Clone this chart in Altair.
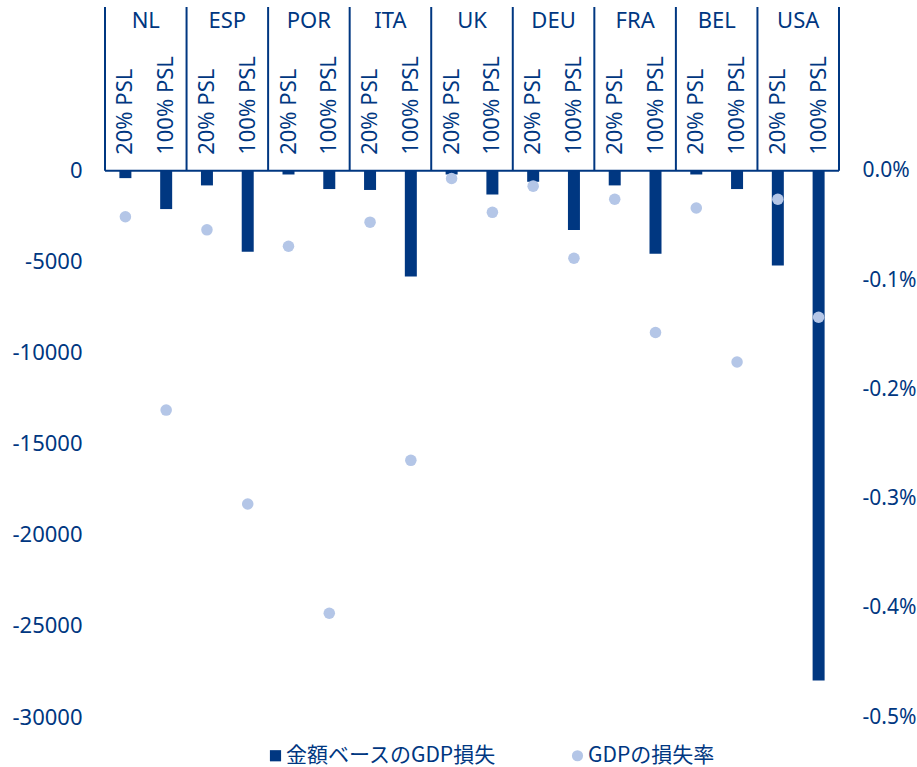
import altair as alt
import pandas as pd

# Countries and the two private-sector-loss scenarios
countries = ["NL", "ESP", "POR", "ITA", "UK", "DEU", "FRA", "BEL", "USA"]
scenarios = ["20% PSL", "100% PSL"]

# GDP loss in money terms (left axis)
loss_20 = [-400, -800, -200, -1050, -200, -600, -800, -200, -5200]
loss_100 = [-2100, -4450, -1000, -5800, -1300, -3250, -4550, -1000, -28000]

# GDP loss rate in percent (right axis)
rate_20 = [-0.042, -0.054, -0.069, -0.047, -0.007, -0.014, -0.026, -0.034, -0.026]
rate_100 = [-0.219, -0.305, -0.405, -0.265, -0.038, -0.080, -0.148, -0.175, -0.134]

series_names = ["金額ベースのGDP損失", "GDPの損失率"]
left_ticks = [0, -5000, -10000, -15000, -20000, -25000, -30000]
right_ticks = [0, -0.001, -0.002, -0.003, -0.004, -0.005]

BLUE = "#003781"
LIGHT = "#b4c6e7"
FONT = "Noto Sans"
JP_FONT = "Noto Sans CJK JP"

LEFT_MIN, HEADER_TOP = -30000, 9000
RIGHT_MIN, RIGHT_TOP = -0.005, 0.0015

rows = []
for i, c in enumerate(countries):
    pairs = [(loss_20[i], rate_20[i]), (loss_100[i], rate_100[i])]
    for j, (s, (loss, rate)) in enumerate(zip(scenarios, pairs)):
        rows.append({
            "country": c,
            "scenario": s,
            "pos": i + 0.25 + 0.5 * j,
            "loss": loss,
            "rate": rate / 100,
        })
df = pd.DataFrame(rows)
bars_df = df.assign(series=series_names[0])
dots_df = df.assign(series=series_names[1])
head_df = pd.DataFrame({"country": countries,
                        "center": [i + 0.5 for i in range(len(countries))]})
edge_df = pd.DataFrame({"edge": list(range(len(countries) + 1))})
base_df = pd.DataFrame({"a": [0], "b": [len(countries)]})

x_scale = alt.Scale(domain=[0, len(countries)], nice=False, zero=False, padding=0)
y_left = alt.Scale(domain=[LEFT_MIN, HEADER_TOP], nice=False, zero=False, padding=0)
y_right = alt.Scale(domain=[RIGHT_MIN, RIGHT_TOP], nice=False, zero=False, padding=0)
color_scale = alt.Scale(domain=series_names, range=[BLUE, LIGHT])
shape_scale = alt.Scale(domain=series_names, range=["square", "circle"])

left_axis = alt.Axis(
    values=left_ticks, ticks=False, domain=False, grid=False, title=None,
    labelExpr="replace(format(datum.value, 'd'), '\u2212', '-')",
    labelPadding=23, labelFont=FONT, labelFontSize=22, labelColor=BLUE,
)
right_axis = alt.Axis(
    orient="right", values=right_ticks, ticks=False, domain=False,
    grid=False, title=None,
    labelExpr="replace(format(datum.value, '.1%'), '\u2212', '-')",
    labelPadding=23, labelFont=FONT, labelFontSize=21, labelColor=BLUE,
)

legend = alt.Legend(
    orient="none", legendX=160, legendY=738, direction="horizontal",
    title=None, labelFont=JP_FONT, labelFontSize=21, labelColor=BLUE,
    labelLimit=400, symbolSize=125, symbolOpacity=1, symbolStrokeWidth=0,
    columnPadding=70, labelOffset=0,
)

bars = alt.Chart(bars_df).mark_bar(size=12).encode(
    x=alt.X("pos:Q", scale=x_scale, axis=None),
    y=alt.Y("loss:Q", scale=y_left, axis=left_axis),
    y2=alt.Y2Datum(0),
    color=alt.Color("series:N", scale=color_scale, legend=legend),
)

baseline = alt.Chart(base_df).mark_rule(color=BLUE, strokeWidth=2).encode(
    x=alt.X("a:Q", scale=x_scale, axis=None),
    x2="b:Q",
    y=alt.YDatum(0, type="quantitative", scale=y_left, axis=left_axis),
)

separators = alt.Chart(edge_df).mark_rule(color=BLUE, strokeWidth=2).encode(
    x=alt.X("edge:Q", scale=x_scale, axis=None),
    y=alt.YDatum(0, type="quantitative", scale=y_left, axis=left_axis),
    y2=alt.Y2Datum(HEADER_TOP),
)

country_labels = alt.Chart(head_df).mark_text(
    font=FONT, fontSize=22, color=BLUE, baseline="middle", align="center",
    yOffset=14,
).encode(
    x=alt.X("center:Q", scale=x_scale, axis=None),
    y=alt.YDatum(HEADER_TOP, type="quantitative", scale=y_left, axis=left_axis),
    text="country:N",
)

scenario_labels = alt.Chart(df).mark_text(
    font=FONT, fontSize=22, color=BLUE, angle=270, align="left",
    baseline="middle", yOffset=-16,
).encode(
    x=alt.X("pos:Q", scale=x_scale, axis=None),
    y=alt.YDatum(0, type="quantitative", scale=y_left, axis=left_axis),
    text="scenario:N",
)

left_group = alt.layer(bars, baseline, separators, country_labels, scenario_labels)

dots = alt.Chart(dots_df).mark_point(filled=True, size=133, opacity=1).encode(
    x=alt.X("pos:Q", scale=x_scale, axis=None),
    y=alt.Y("rate:Q", scale=y_right, axis=right_axis),
    color=alt.Color("series:N", scale=color_scale, legend=legend),
    shape=alt.Shape("series:N", scale=shape_scale, legend=legend),
)

chart = (
    alt.layer(left_group, dots)
    .resolve_scale(y="independent")
    .properties(
        width=734, height=710,
        background="white",
        autosize=alt.AutoSizeParams(type="none"),
        padding={"left": 105, "top": 7, "right": 78, "bottom": 50},
    )
    .configure_view(stroke=None, strokeWidth=0)
    .configure_axis(domain=False, grid=False, ticks=False)
)

chart.save("out.html", embed_options={"renderer": "svg", "actions": False})
